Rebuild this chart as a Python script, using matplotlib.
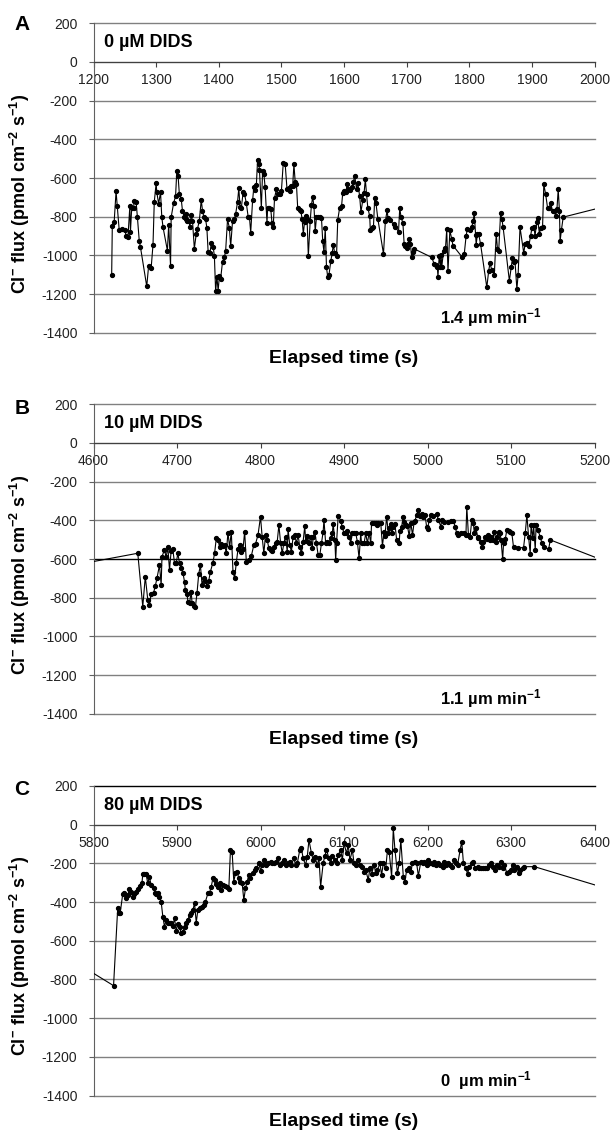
import matplotlib
matplotlib.use('Agg')
import matplotlib.pyplot as plt

plt.rcParams['font.family'] = ['Liberation Sans', 'DejaVu Sans']
plt.rcParams['mathtext.fontset'] = 'custom'
plt.rcParams['mathtext.rm'] = 'Liberation Sans'
plt.rcParams['mathtext.bf'] = 'Liberation Sans:bold'
plt.rcParams['mathtext.it'] = 'Liberation Sans:italic'

# y axis is shared by all three panels
y_ticks = [200, 0, -200, -400, -600, -800, -1000, -1200, -1400]
y_tick_labels = ['200', '0', '-200', '-400', '-600', '-800', '-1000', '-1200', '-1400']

# panel A: 0 uM DIDS
x_ticks_a = [1200, 1300, 1400, 1500, 1600, 1700, 1800, 1900, 2000]
time_a = [1229, 1230, 1233, 1236, 1238, 1241, 1245, 1250, 1252, 1255, 1258, 1259, 1261, 1264, 1265, 1268,
          1270, 1273, 1275, 1285, 1288, 1292, 1295, 1297, 1300, 1301, 1304, 1307, 1309, 1311, 1318, 1320,
          1323, 1324, 1328, 1331, 1333, 1335, 1337, 1340, 1342, 1345, 1347, 1348, 1350, 1352, 1354, 1356,
          1358, 1361, 1364, 1366, 1369, 1372, 1374, 1376, 1379, 1381, 1383, 1386, 1388, 1391, 1393, 1395,
          1397, 1399, 1401, 1403, 1406, 1409, 1411, 1414, 1417, 1419, 1422, 1425, 1427, 1430, 1432, 1434,
          1436, 1439, 1441, 1444, 1447, 1449, 1451, 1454, 1456, 1458, 1460, 1462, 1464, 1465, 1468, 1470,
          1472, 1474, 1477, 1478, 1481, 1483, 1485, 1487, 1489, 1492, 1494, 1497, 1500, 1503, 1506, 1509,
          1512, 1513, 1516, 1518, 1520, 1522, 1524, 1526, 1529, 1531, 1533, 1535, 1537, 1539, 1541, 1543,
          1546, 1548, 1550, 1552, 1554, 1556, 1558, 1562, 1564, 1566, 1568, 1570, 1572, 1574, 1576, 1579,
          1581, 1583, 1585, 1588, 1590, 1593, 1596, 1598, 1600, 1603, 1605, 1607, 1610, 1613, 1615, 1617,
          1620, 1622, 1625, 1627, 1630, 1632, 1634, 1636, 1638, 1641, 1642, 1645, 1647, 1649, 1651, 1654,
          1663, 1666, 1669, 1670, 1673, 1679, 1682, 1687, 1689, 1691, 1694, 1696, 1698, 1700, 1702, 1704,
          1706, 1708, 1710, 1712, 1740, 1744, 1747, 1749, 1750, 1752, 1754, 1755, 1756, 1759, 1762, 1764,
          1766, 1769, 1772, 1774, 1788, 1792, 1795, 1797, 1801, 1804, 1806, 1808, 1810, 1811, 1813, 1815,
          1818, 1828, 1831, 1833, 1836, 1840, 1843, 1845, 1847, 1850, 1852, 1854, 1864, 1867, 1869, 1871,
          1873, 1876, 1878, 1881, 1887, 1889, 1892, 1895, 1898, 1900, 1903, 1905, 1908, 1909, 1912, 1914,
          1917, 1919, 1922, 1925, 1927, 1930, 1933, 1935, 1938, 1940, 1942, 1944, 1945, 1947, 1950, 2050]
flux_a = [-1099, -846, -825, -669, -747, -868, -865, -868, -897, -906, -747, -877, -754, -754, -719, -723,
          -799, -923, -958, -1160, -1053, -1067, -944, -725, -626, -673, -733, -673, -801, -854, -975, -842,
          -1055, -802, -728, -695, -564, -587, -681, -707, -768, -802, -813, -785, -820, -820, -851, -789,
          -820, -965, -889, -863, -820, -713, -768, -799, -813, -858, -980, -989, -935, -954, -1003, -1186,
          -1110, -1182, -1106, -1120, -1032, -1010, -975, -813, -859, -953, -823, -813, -785, -723, -652, -751,
          -754, -671, -681, -730, -802, -802, -882, -716, -647, -664, -638, -505, -526, -561, -754, -564,
          -578, -647, -833, -754, -754, -759, -833, -854, -704, -659, -685, -681, -668, -521, -526, -659,
          -652, -669, -640, -640, -530, -618, -630, -754, -764, -768, -811, -889, -825, -794, -813, -1004,
          -820, -738, -699, -747, -875, -802, -802, -802, -806, -927, -984, -858, -1061, -1113, -1099, -1027,
          -989, -944, -989, -1003, -816, -754, -747, -676, -668, -673, -630, -656, -664, -647, -621, -587,
          -656, -625, -695, -776, -713, -678, -607, -685, -754, -797, -871, -858, -851, -702, -730, -811,
          -992, -823, -764, -806, -816, -840, -854, -877, -754, -802, -832, -941, -949, -961, -941, -915,
          -941, -1010, -984, -966, -1010, -1044, -1048, -1061, -1110, -1001, -1061, -996, -1061, -975, -963, -865,
          -1082, -871, -915, -949, -1006, -992, -897, -863, -868, -854, -823, -782, -892, -944, -889, -889,
          -941, -1165, -1079, -1041, -1075, -1099, -889, -966, -975, -782, -811, -854, -1131, -1061, -1013, -1036,
          -1030, -1174, -1099, -854, -989, -941, -937, -953, -897, -859, -851, -897, -825, -808, -889, -859,
          -854, -633, -685, -754, -756, -730, -771, -771, -794, -759, -659, -771, -927, -871, -802, -720]

# panel B: 10 uM DIDS
x_ticks_b = [4600, 4700, 4800, 4900, 5000, 5100, 5200]
time_b = [4560, 4653, 4659, 4662, 4665, 4667, 4669, 4672, 4674, 4676, 4679, 4681, 4682, 4685, 4687, 4689,
          4691, 4693, 4695, 4697, 4699, 4701, 4703, 4705, 4707, 4709, 4710, 4712, 4713, 4715, 4717, 4718,
          4720, 4722, 4724, 4726, 4728, 4730, 4732, 4734, 4736, 4738, 4740, 4743, 4745, 4747, 4749, 4751,
          4753, 4755, 4757, 4759, 4761, 4763, 4765, 4767, 4769, 4771, 4773, 4775, 4777, 4779, 4781, 4783,
          4786, 4789, 4792, 4794, 4797, 4800, 4802, 4804, 4806, 4808, 4810, 4812, 4814, 4816, 4818, 4820,
          4822, 4824, 4826, 4828, 4830, 4832, 4833, 4835, 4837, 4839, 4841, 4843, 4845, 4847, 4849, 4851,
          4853, 4854, 4856, 4858, 4860, 4862, 4863, 4865, 4867, 4869, 4871, 4873, 4875, 4876, 4878, 4880,
          4882, 4884, 4886, 4887, 4889, 4890, 4891, 4893, 4896, 4898, 4900, 4902, 4904, 4906, 4908, 4910,
          4912, 4914, 4916, 4918, 4920, 4921, 4924, 4926, 4928, 4930, 4932, 4933, 4936, 4938, 4939, 4941,
          4944, 4946, 4948, 4949, 4951, 4953, 4954, 4956, 4957, 4959, 4961, 4963, 4966, 4967, 4969, 4971,
          4972, 4974, 4976, 4978, 4980, 4982, 4984, 4985, 4987, 4989, 4991, 4993, 4995, 4997, 4999, 5000,
          5002, 5004, 5006, 5011, 5013, 5016, 5017, 5020, 5024, 5028, 5031, 5033, 5035, 5036, 5040, 5044,
          5046, 5047, 5049, 5051, 5053, 5055, 5056, 5058, 5060, 5061, 5064, 5065, 5067, 5069, 5071, 5073,
          5075, 5076, 5078, 5080, 5082, 5083, 5085, 5087, 5088, 5090, 5091, 5093, 5095, 5097, 5099, 5101,
          5103, 5108, 5115, 5117, 5119, 5121, 5123, 5124, 5126, 5127, 5129, 5130, 5132, 5135, 5137, 5139,
          5145, 5147, 5260]
flux_b = [-645, -570, -846, -691, -811, -837, -780, -773, -739, -699, -631, -734, -587, -553, -591, -536,
          -656, -556, -550, -622, -622, -570, -622, -648, -670, -717, -760, -780, -820, -829, -768, -829,
          -842, -849, -773, -677, -631, -734, -699, -711, -739, -711, -665, -618, -570, -493, -501, -536,
          -522, -532, -527, -570, -463, -539, -458, -665, -699, -618, -550, -527, -562, -550, -458, -613,
          -605, -584, -527, -522, -475, -381, -488, -570, -476, -501, -544, -553, -556, -536, -519, -510,
          -424, -515, -570, -515, -484, -562, -446, -527, -562, -484, -476, -519, -476, -536, -570, -510,
          -429, -505, -481, -519, -484, -544, -484, -458, -519, -579, -579, -519, -458, -398, -519, -510,
          -515, -493, -467, -419, -501, -605, -519, -377, -401, -436, -467, -467, -453, -484, -515, -467,
          -463, -467, -510, -596, -467, -519, -519, -467, -519, -463, -519, -412, -415, -412, -424, -415,
          -415, -532, -458, -481, -381, -463, -441, -419, -467, -436, -419, -501, -519, -453, -432, -381,
          -407, -424, -429, -481, -412, -476, -407, -401, -372, -346, -377, -367, -384, -372, -436, -446,
          -398, -372, -377, -367, -398, -432, -398, -407, -407, -401, -401, -432, -467, -476, -467, -467,
          -476, -329, -476, -484, -398, -415, -467, -441, -484, -493, -510, -536, -510, -484, -498, -476,
          -501, -488, -501, -458, -510, -484, -458, -467, -501, -601, -519, -498, -450, -453, -458, -467,
          -539, -541, -541, -467, -372, -484, -574, -424, -493, -424, -553, -424, -450, -484, -519, -536,
          -550, -501, -690]

# panel C: 80 uM DIDS
x_ticks_c = [5800, 5900, 6000, 6100, 6200, 6300, 6400]
time_c = [5780, 5824, 5829, 5830, 5832, 5835, 5837, 5839, 5841, 5843, 5845, 5847, 5849, 5851, 5853, 5856,
          5858, 5859, 5861, 5863, 5865, 5867, 5869, 5872, 5874, 5875, 5877, 5879, 5881, 5883, 5885, 5887,
          5889, 5891, 5893, 5895, 5897, 5899, 5901, 5903, 5905, 5907, 5909, 5911, 5913, 5915, 5917, 5919,
          5921, 5923, 5925, 5928, 5930, 5932, 5934, 5937, 5939, 5941, 5943, 5945, 5947, 5949, 5951, 5953,
          5955, 5958, 5960, 5962, 5964, 5966, 5968, 5970, 5972, 5974, 5976, 5978, 5980, 5982, 5984, 5986,
          5988, 5991, 5993, 5995, 5998, 6000, 6002, 6004, 6006, 6007, 6009, 6012, 6014, 6016, 6019, 6021,
          6023, 6026, 6028, 6030, 6033, 6035, 6037, 6040, 6042, 6044, 6047, 6049, 6051, 6054, 6056, 6058,
          6061, 6063, 6065, 6068, 6070, 6072, 6075, 6077, 6079, 6082, 6084, 6086, 6089, 6091, 6093, 6096,
          6098, 6100, 6103, 6105, 6107, 6110, 6112, 6114, 6117, 6119, 6122, 6124, 6126, 6129, 6131, 6133,
          6136, 6138, 6140, 6143, 6145, 6147, 6150, 6152, 6154, 6157, 6159, 6161, 6164, 6166, 6168, 6171,
          6173, 6175, 6178, 6180, 6182, 6185, 6187, 6189, 6192, 6194, 6196, 6199, 6201, 6203, 6206, 6208,
          6210, 6213, 6215, 6218, 6220, 6222, 6225, 6227, 6229, 6232, 6234, 6236, 6239, 6241, 6243, 6246,
          6248, 6250, 6253, 6255, 6257, 6260, 6262, 6264, 6267, 6269, 6271, 6274, 6276, 6278, 6281, 6283,
          6285, 6288, 6290, 6292, 6295, 6297, 6300, 6302, 6304, 6307, 6309, 6311, 6314, 6316, 6328, 6430]
flux_c = [-715, -832, -430, -458, -455, -358, -355, -381, -363, -334, -346, -372, -358, -346, -334, -317,
          -303, -255, -255, -257, -303, -272, -312, -325, -355, -358, -355, -372, -398, -475, -527, -493,
          -510, -506, -510, -524, -484, -548, -513, -530, -561, -553, -530, -510, -493, -467, -458, -441,
          -406, -506, -441, -432, -424, -415, -398, -355, -351, -320, -277, -286, -307, -324, -300, -337,
          -312, -317, -324, -334, -131, -139, -294, -251, -243, -277, -294, -303, -389, -329, -294, -260,
          -277, -251, -234, -226, -200, -238, -208, -183, -208, -203, -196, -191, -196, -200, -191, -174,
          -208, -196, -183, -208, -200, -191, -208, -174, -208, -200, -131, -122, -174, -208, -165, -79,
          -148, -183, -165, -208, -174, -320, -200, -162, -131, -174, -200, -162, -183, -200, -157, -131,
          -183, -96, -148, -105, -183, -131, -200, -208, -183, -208, -217, -243, -234, -286, -226, -255,
          -208, -251, -234, -200, -260, -200, -226, -131, -139, -269, -19, -131, -251, -200, -79, -269,
          -294, -234, -226, -243, -200, -191, -200, -265, -191, -200, -191, -208, -183, -200, -203, -191,
          -208, -200, -208, -217, -191, -208, -200, -208, -217, -183, -200, -208, -131, -88, -200, -226,
          -255, -217, -200, -191, -226, -217, -226, -226, -226, -226, -226, -208, -200, -217, -234, -208,
          -217, -191, -226, -208, -251, -243, -234, -208, -234, -217, -251, -234, -226, -217, -217, -350]

ylabel = r'$\mathbf{Cl^{-}\ flux\ (pmol\ cm^{-2}\ s^{-1})}$'


def draw_panel(fig, rect, time, flux, x_ticks, letter, letter_y, dose, rate, dark_y=()):
    ax = fig.add_axes(rect)
    ax.set_xlim(x_ticks[0], x_ticks[-1])
    ax.set_ylim(-1400, 200)

    for y in y_ticks:
        col = 'black' if y in dark_y else '#808080'
        ax.axhline(y, color=col, lw=1.0, zorder=1, clip_on=False)

    ax.plot(time, flux, '-o', color='black', lw=0.8, ms=2.8, zorder=3)

    ax.spines['top'].set_visible(False)
    ax.spines['right'].set_visible(False)
    ax.spines['bottom'].set_position(('data', 0))
    ax.spines['bottom'].set_color('#404040')
    ax.spines['left'].set_color('#606060')

    ax.set_xticks(x_ticks)
    ax.set_xticklabels([str(x) for x in x_ticks])
    ax.set_yticks(y_ticks)
    ax.set_yticklabels(y_tick_labels)
    ax.tick_params(axis='x', direction='out', length=3.6, width=0.8, color='#404040',
                   labelsize=10, pad=4.5, labelcolor='#222222')
    ax.tick_params(axis='y', direction='out', length=3.6, width=0.8, color='#606060',
                   labelsize=10, pad=8, labelcolor='#222222')

    ax.text(0.021, 100, dose, transform=ax.get_yaxis_transform(), va='center', ha='left',
            fontsize=13, fontweight='bold')
    ax.text(0.692, -1322, rate, transform=ax.get_yaxis_transform(), va='center', ha='left',
            fontsize=12, fontweight='bold')
    ax.text(0.5, -0.084, 'Elapsed time (s)', transform=ax.transAxes, ha='center', va='center',
            fontsize=14, fontweight='bold')
    ax.text(-0.147, 0.45, ylabel, transform=ax.transAxes, rotation=90, ha='center', va='center',
            fontsize=13)
    fig.text(0.036, letter_y, letter, ha='center', va='center', fontsize=15, fontweight='bold')
    return ax


fig = plt.figure(figsize=(6.14, 11.34), dpi=100)

left, width, height = 0.1523, 0.816, 0.273
draw_panel(fig, [left, 0.7065, width, height], time_a, flux_a, x_ticks_a,
           'A', 0.978, '0 µM DIDS', r'1.4 µm min$^{\mathbf{-1}}$')
draw_panel(fig, [left, 0.3705, width, height], time_b, flux_b, x_ticks_b,
           'B', 0.640, '10 µM DIDS', r'1.1 µm min$^{\mathbf{-1}}$', dark_y=(-600,))
draw_panel(fig, [left, 0.0339, width, height], time_c, flux_c, x_ticks_c,
           'C', 0.3034, '80 µM DIDS', r'0  µm min$^{\mathbf{-1}}$', dark_y=(200,))

fig.savefig('out.png', dpi=100)
